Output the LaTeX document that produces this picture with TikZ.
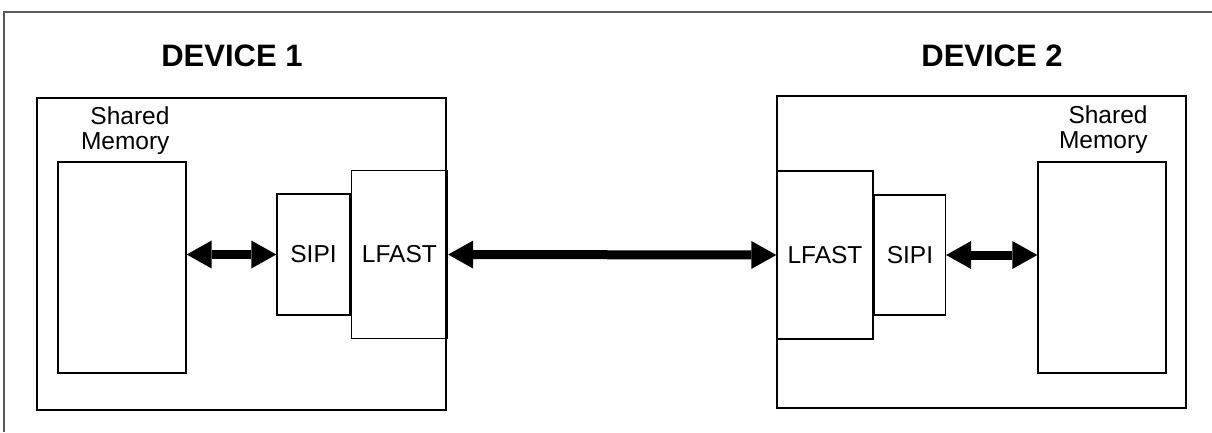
\documentclass[tikz,border=0pt]{standalone}
\usepackage{fontspec}
\setmainfont{Liberation Sans}
\usetikzlibrary{arrows.meta,positioning}

\begin{document}
\begin{tikzpicture}[x=1pt,y=-1pt,
    boite/.style={draw, line width=1.4pt, inner sep=0pt},
    texte/.style={font=\fontsize{24.5}{25}\selectfont},
    titre/.style={font=\fontsize{31}{31}\selectfont\bfseries},
    fleche/.style={line width=9pt,
      {Triangle[length=25pt,width=28pt,line width=0pt]}-{Triangle[length=25pt,width=28pt,line width=0pt]}}]
    \useasboundingbox (0,0) rectangle (1212,432);

    % cadre exterieur (bords haut et gauche seulement)
    \draw[black!65, line width=2pt] (4,432) -- (4,12) -- (1212,12);

    % Titres
    \node[titre] (titre1) at (232,56) {DEVICE 1};
    \node[titre] (titre2) at (992,56) {DEVICE 2};

    % Premier composant
    \node[boite, minimum width=409pt, minimum height=312pt] (dev1) at (241.5,254) {};
    \node[boite, minimum width=128pt, minimum height=211pt] (mem1) at (122,267.5) {};
    \node[boite, texte, minimum width=73pt, minimum height=121pt] (sipi1) at (313.5,254.5) {SIPI};
    \node[boite, texte, minimum width=96pt, minimum height=168pt, right=0pt of sipi1] (lfast1) {LFAST};
    \node[texte, align=right, inner sep=0pt, anchor=south east] (lbl1)
      at ([xshift=-17pt,yshift=7pt]mem1.north east) {Shared\\Memory};

    % Second composant
    \node[boite, minimum width=409pt, minimum height=312pt] (dev2) at (981.5,252) {};
    \node[boite, texte, minimum width=96pt, minimum height=168pt] (lfast2) at (825,255) {LFAST};
    \node[boite, texte, minimum width=71pt, minimum height=120pt, right=0pt of lfast2] (sipi2) {SIPI};
    \node[boite, minimum width=128pt, minimum height=211pt] (mem2) at (1102,267.5) {};
    \node[texte, align=right, inner sep=0pt, anchor=south east] (lbl2)
      at ([xshift=-19pt,yshift=8pt]mem2.north east) {Shared\\Memory};

    % Liaisons
    \draw[fleche] (mem1.east |- sipi1.west) -- (sipi1.west);
    \draw[fleche] (lfast1.east) -- (lfast2.west);
    \draw[fleche] (sipi2.east) -- (mem2.west |- sipi2.east);
\end{tikzpicture}
\end{document}
